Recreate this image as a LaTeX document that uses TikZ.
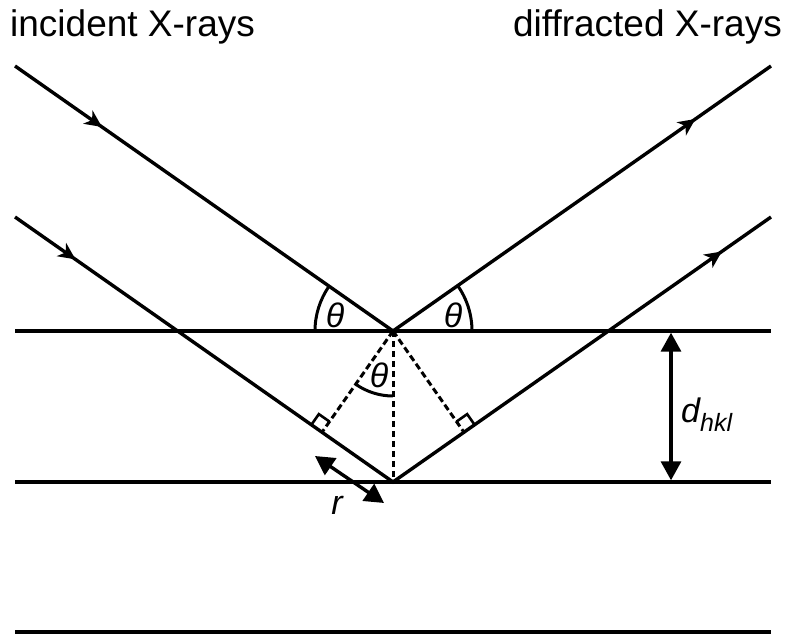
\documentclass[tikz,border=0pt]{standalone}
\usepackage{fontspec}
\setmainfont{Liberation Sans}
\usetikzlibrary{arrows.meta,calc,decorations.markings}

\begin{document}
\begin{tikzpicture}[x=1pt, y=1pt, >={Triangle[length=19pt,width=20pt]},
    plane/.style={line width=3.4pt},
    ray/.style={line width=3.4pt, line join=miter},
    guide/.style={line width=3pt, dash pattern=on 6.5pt off 3.5pt},
    dimline/.style={<->, line width=3.4pt},
    lbl/.style={font=\fontsize{34}{40}\selectfont\itshape, inner sep=0pt},
    head/.style={font=\fontsize{37}{44}\selectfont, inner sep=0pt},
    flow/.style 2 args={postaction={decorate, decoration={markings,
        mark=at position #1 with {\arrow{Stealth[length=17pt,width=16pt,inset=5pt]}},
        mark=at position #2 with {\arrow{Stealth[length=17pt,width=16pt,inset=5pt]}}}}}]
  \useasboundingbox (0,0) rectangle (785,635);

  \node[head, anchor=base west] (inc) at (10,598) {incident X-rays};
  \node[head, anchor=base east] (dif) at (782,598) {diffracted X-rays};

  \foreach \y/\n in {304/1, 153/2, 3/3}
    \draw[plane] (15,\y) coordinate (p\n w) -- (771,\y) coordinate (p\n e);

  \coordinate (O) at (393,304);
  \coordinate (B) at (393,153);
  \coordinate (inA) at (15,569);
  \coordinate (inB) at (15,418);
  \coordinate (outA) at (771,569);
  \coordinate (outB) at (771,418);
  \coordinate (F1) at ($(B)!(O)!(inB)$);
  \coordinate (F2) at ($(B)!(O)!(outB)$);

  \draw[ray, flow={0.115}{0.90}] (inA) -- (O) -- (outA);
  \draw[ray, flow={0.08}{0.935}] (inB) -- (B) -- (outB);

  \draw[guide] (O) -- (F1);
  \draw[guide] (O) -- (B);
  \draw[guide] (O) -- (F2);
  \draw[line width=2.6pt, shift={(F1)}, rotate=55] (13,0) -- (13,13) -- (0,13);
  \draw[line width=2.6pt, shift={(F2)}, rotate=35] (13,0) -- (13,13) -- (0,13);

  \draw[line width=3pt] ($(O)+(180:78)$) arc[start angle=180, end angle=145, radius=78];
  \draw[line width=3pt] ($(O)+(0:79)$) arc[start angle=0, end angle=35, radius=79];
  \draw[line width=3pt] ($(O)+(235:65)$) arc[start angle=235, end angle=270, radius=65];
  \node[lbl] (thA) at (335,320) {θ};
  \node[lbl] (thB) at (453,320) {θ};
  \node[lbl] (thC) at (379,260) {θ};

  \coordinate (rS) at (315,179);
  \coordinate (rE) at (384,132);
  \draw[dimline] (rS) -- (rE);
  \node[lbl] (rlab) at (337,130) {r};

  \coordinate (dT) at (671,304);
  \coordinate (dB) at (671,153);
  \draw[dimline, shorten <=1.7pt, shorten >=1.7pt] (dT) -- (dB);
  \node[lbl, anchor=base west] (dlab) at (681,212) {d\raisebox{-9pt}{\fontsize{25}{26}\selectfont hkl}};
\end{tikzpicture}
\end{document}
